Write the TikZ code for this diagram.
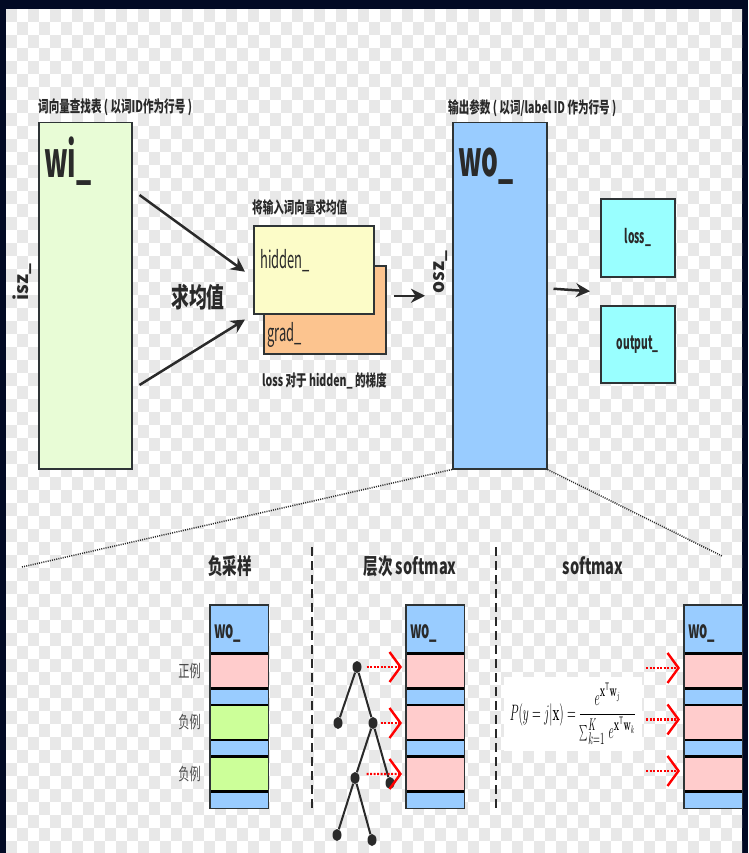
\documentclass[tikz,border=0pt]{standalone}
\usepackage[no-math]{fontspec}
\setmainfont{Noto Sans CJK SC}[FakeStretch=0.66]
\newfontfamily\plainfont{Noto Sans CJK SC}
\newfontfamily\narrowfont{Noto Sans CJK SC}[FakeStretch=0.54]
\usetikzlibrary{arrows.meta,calc,shapes.geometric}

\definecolor{framecol}{HTML}{020A24}
\definecolor{checkcol}{HTML}{E8E8E8}
\definecolor{boxline}{HTML}{2E3436}
\definecolor{wicol}{HTML}{E8FCD6}
\definecolor{hidcol}{HTML}{FCFCC8}
\definecolor{gradcol}{HTML}{FCC48F}
\definecolor{wocol}{HTML}{99CCFF}
\definecolor{losscol}{HTML}{99FFFF}
\definecolor{poscol}{HTML}{FFCCCC}
\definecolor{negcol}{HTML}{CCFF99}
\definecolor{txtcol}{HTML}{2A2A2A}

\tikzset{
  bigbox/.style={draw=boxline, line width=1.5pt, inner sep=0pt, anchor=north west},
  colbox/.style={fill=wocol, inner sep=0pt, anchor=north west,
    minimum width=58pt, minimum height=203pt},
  rowbox/.style={inner sep=0pt, anchor=north west, minimum width=58pt, minimum height=34.5pt},
  rowline/.style={draw=black, line width=2.5pt},
  lbl/.style={inner sep=0pt, text=txtcol, font=\bfseries\fontsize{16}{16}\selectfont},
  biglbl/.style={inner sep=0pt, text=txtcol, font=\narrowfont\bfseries\fontsize{49}{49}\selectfont, anchor=base west},
  boxlbl/.style={inner sep=0pt, text=txtcol, font=\narrowfont\fontsize{24}{24}\selectfont, anchor=base west},
  smalllbl/.style={inner sep=0pt, text=txtcol, font=\narrowfont\bfseries\fontsize{19}{19}\selectfont},
  sizelbl/.style={inner sep=0pt, text=txtcol, rotate=90, font=\plainfont\bfseries\fontsize{19}{19}\selectfont},
  title/.style={inner sep=0pt, text=txtcol, font=\bfseries\fontsize{22}{22}\selectfont, anchor=base},
  sidelbl/.style={inner sep=0pt, text=txtcol!85, font=\fontsize{17}{17}\selectfont},
  arr/.style={draw=txtcol, line width=2.5pt, -{Stealth[length=14pt,width=14pt]}},
  redarr/.style={draw=red, line width=2.4pt, dash pattern=on 2pt off 1.5pt, shorten >=4pt,
    -{Straight Barb[length=11pt,width=30pt]}},
  treenode/.style={ellipse, fill=txtcol, inner sep=0pt, minimum width=9pt, minimum height=12pt},
  treeedge/.style={draw=txtcol, line width=2pt},
  zoomline/.style={draw=txtcol, line width=1.5pt, dash pattern=on 1pt off 1.2pt},
  sep/.style={draw=txtcol, line width=1.2pt, dash pattern=on 9pt off 5pt}
}

\begin{document}
\begin{tikzpicture}[x=1pt, y=-1pt]
\useasboundingbox (0,0) rectangle (748,853);
\fill[framecol] (0,0) rectangle (748,853);
\fill[white] (6,9) rectangle (742,853);
% light checker behind everything
\begin{scope}
  \clip (6,9) rectangle (742,853);
  \foreach \i in {0,2,...,68}
    \foreach \j in {0,...,65}
      \fill[checkcol] ({6+\i*11+mod(\j,2)*11},{9+\j*13}) rectangle ++(11,13);
\end{scope}

% input word vectors
\node[lbl, anchor=base west] (wititle) at (38,113) {词向量查找表 ( 以词ID作为行号 )};
\node[bigbox, fill=wicol, minimum width=93pt, minimum height=346pt] (wi) at (38,122) {};
\node[biglbl] (wilbl) at (44,178) {wi\_};
\node[sizelbl] (isz) at (22,282) {isz\_};

% averaged hidden layer
\node[lbl, anchor=base west] (avgtitle) at (252,213) {将输入词向量求均值};
\node[bigbox, fill=gradcol, minimum width=122pt, minimum height=88pt] (grad) at (263,265) {};
\node[bigbox, fill=hidcol, minimum width=120pt, minimum height=88pt] (hidden) at (253,225) {};
\node[boxlbl] (hidlbl) at (260,268) {hidden\_};
\node[boxlbl] (gradlbl) at (267,341) {grad\_};
\node[lbl, anchor=base west] (gradnote) at (262,386) {loss 对于 hidden\_ 的梯度};
\node[lbl, font=\bfseries\fontsize{27}{27}\selectfont] (avg) at (198,297) {求均值};

\draw[arr] ($(wi.north east)+(7,73)$) -- ($(hidden.west)+(-8,2)$);
\draw[arr] ($(wi.north east)+(7,263)$) -- ($(hidden.south west)+(-8,5)$);

% output parameters
\node[lbl, anchor=base west] (wotitle) at (448,114) {输出参数 ( 以词/label ID 作为行号 )};
\node[bigbox, fill=wocol, minimum width=94pt, minimum height=346pt] (wo) at (452,122) {};
\node[biglbl] (wolbl) at (458,176) {wo\_};
\node[sizelbl] (osz) at (441,272) {osz\_};
\draw[arr] ($(grad.east)+(7,-14)$) -- ($(wo.west)+(-27,0)$);

\node[bigbox, fill=losscol, minimum width=74pt, minimum height=78pt] (loss) at (600,198) {};
\node[bigbox, fill=losscol, minimum width=74pt, minimum height=77pt] (output) at (600,305) {};
\node[smalllbl] (losslbl) at (loss.center) {loss\_};
\node[smalllbl] (outlbl) at (output.center) {output\_};
\draw[arr] ($(wo.east)+(6,-7)$) -- ($(loss.south west)!0.5!(output.north west)+(-10,0)$);

% zoom lines down to the three variants
\coordinate (zl) at (22,567);
\coordinate (zr) at (722,556);
\draw[zoomline] (wo.south west) -- (zl);
\draw[zoomline] (wo.south east) -- (zr);

\node[title] (negtitle) at (230,574) {负采样};
\node[title] (hstitle) at (410,574) {层次 softmax};
\node[title] (smtitle) at (593,574) {softmax};
\draw[sep] (312,547) -- (312,810);
\draw[sep] (496,547) -- (496,810);

% wo_ columns
\foreach \cx/\ca/\cb [count=\i] in {210/poscol/negcol, 406/poscol/poscol, 684/poscol/poscol} {
  \node[colbox] (c\i) at (\cx,605) {};
  \node[inner sep=0pt, text=txtcol, font=\narrowfont\bfseries\fontsize{24}{24}\selectfont, anchor=base west]
    (c\i lbl) at (\cx+4,638) {wo\_};
  \foreach \r/\ry/\rc in {0/653.5/\ca, 1/705/\cb, 2/756.5/\cb} {
    \node[rowbox, fill=\rc] (c\i r\r) at (\cx,\ry) {};
    \draw[rowline] (c\i r\r.north west) -- (c\i r\r.north east);
    \draw[rowline] (c\i r\r.south west) -- (c\i r\r.south east);
  }
  \draw[draw=boxline, line width=1.2pt] (c\i.north west) rectangle (c\i.south east);
}
\node[sidelbl, anchor=east] (pos) at ($(c1r0.west)+(-9,0)$) {正例};
\node[sidelbl, anchor=east] (neg1) at ($(c1r1.west)+(-9,0)$) {负例};
\node[sidelbl, anchor=east] (neg2) at ($(c1r2.west)+(-9,0)$) {负例};

% huffman tree
\node[treenode] (t0) at (357,667) {};
\node[treenode] (t1) at (338,723) {};
\node[treenode] (t2) at (373,723) {};
\node[treenode] (t3) at (355,778) {};
\node[treenode] (t4) at (390,783) {};
\node[treenode] (t5) at (337,835) {};
\node[treenode] (t6) at (372,840) {};
\draw[treeedge] (t0) -- (t1);
\draw[treeedge] (t0) -- (t2);
\draw[treeedge] (t2) -- (t3);
\draw[treeedge] (t2) -- (t4);
\draw[treeedge] (t3) -- (t5);
\draw[treeedge] (t3) -- (t6);
\draw[redarr] ($(t0.east)+(5,0)$) -- (t0 -| c2r0.west);
\draw[redarr] ($(t2.east)+(3,0)$) -- (t2 -| c2r1.west);
\draw[redarr] ($(t3.east)+(7,-4)$) -- (c2r2.west);

% full softmax
\node[fill=white, inner sep=6pt] (softmaxeq) at (573,714)
  {\scalebox{0.8}[1.55]{\fontsize{15}{15}\selectfont
   $P(y=j|\mathbf{x})=\displaystyle\frac{e^{\mathbf{x}^\mathsf{T}\mathbf{w}_j}}{\textstyle\sum_{k=1}^{K}\, e^{\mathbf{x}^\mathsf{T}\mathbf{w}_k}}$}};
\foreach \k in {0,1,2} {
  \coordinate (s\k) at ($(c3r\k.west)+(-38,-3)$);
  \draw[redarr] (s\k) -- ($(c3r\k.west)+(0,-3)$);
}
\end{tikzpicture}
\end{document}
